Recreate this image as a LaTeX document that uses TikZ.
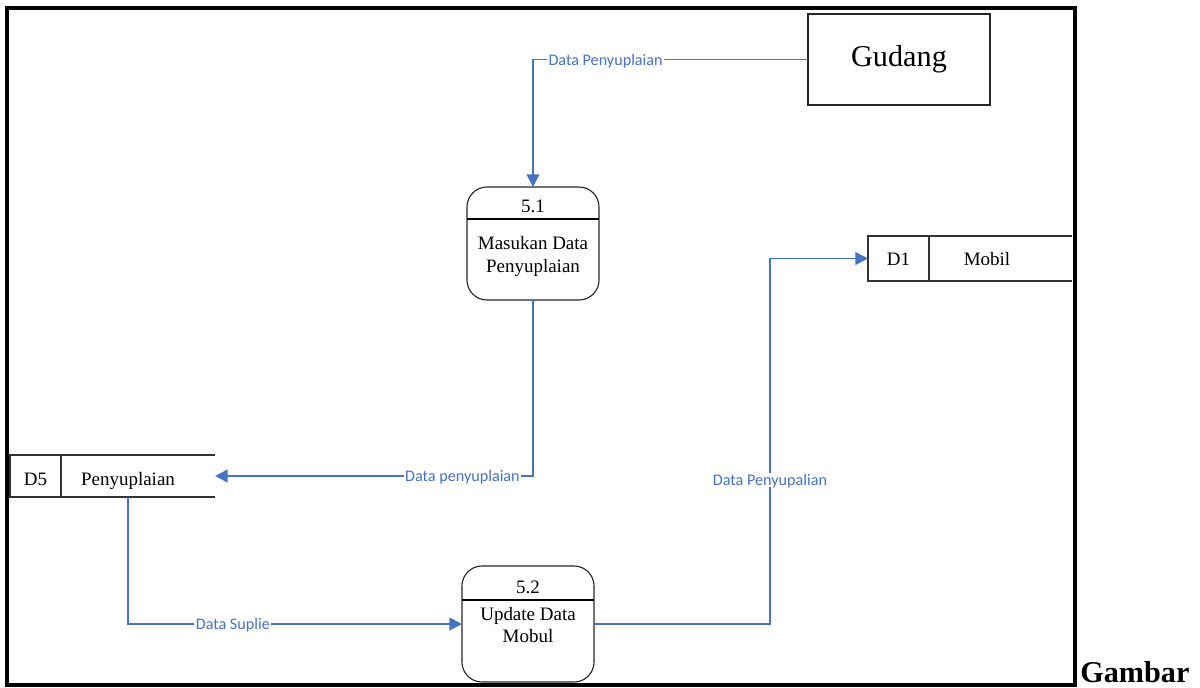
\documentclass[tikz,border=0pt]{standalone}
\usepackage{fontspec}
\setmainfont{Liberation Serif}
\newfontfamily\lblfont{Carlito}
\usetikzlibrary{arrows.meta}
\definecolor{flowblue}{RGB}{68,114,196}
\begin{document}
\begin{tikzpicture}[x=0.025cm,y=-0.025cm,
  flow/.style={draw=flowblue, line width=1.4pt, -{Triangle[length=9pt,width=9pt]}},
  lbl/.style={fill=white, text=flowblue, font=\lblfont\fontsize{11.5}{13}\selectfont, inner sep=1pt, text depth=0pt},
  proc/.style={draw=black!85, line width=0.8pt, rounded corners=0.5cm, minimum width=3.3cm, inner sep=0pt, outer sep=0pt},
  divider/.style={draw=black, line width=1.3pt},
  store/.style={inner sep=0pt, outer sep=0pt},
  storeline/.style={draw=black!80, line width=0.8pt},
  txt/.style={anchor=base, inner sep=0pt, font=\fontsize{13.5}{16}\selectfont},
  ext/.style={draw=black!85, line width=0.8pt, minimum width=4.55cm, minimum height=2.275cm, inner sep=0pt, outer sep=0pt, font=\fontsize{21.5}{25}\selectfont}
]
\useasboundingbox (0,0) rectangle (1200,687);
% frame
\draw[line width=2.85pt] (7,8) rectangle (1075,684.5);

% external entity
\node[ext] (gudang) at (899,59.5) {Gudang};

% process 5.1
\node[proc, minimum height=2.825cm] (p51) at (533,243.5) {};
\draw[divider] ([yshift=-0.8cm]p51.north west) -- ([yshift=-0.8cm]p51.north east);
\node[txt] (p51n) at (533,212) {5.1};
\node[txt] (p51a) at (533,249) {Masukan Data};
\node[txt] (p51b) at (533,272) {Penyuplaian};

% process 5.2
\node[proc, minimum height=2.9cm] (p52) at (528,624) {};
\draw[divider] ([yshift=-0.85cm]p52.north west) -- ([yshift=-0.85cm]p52.north east);
\node[txt] (p52n) at (528,593) {5.2};
\node[txt] (p52a) at (528,620) {Update Data};
\node[txt] (p52b) at (528,642) {Mobul};

% store D5
\node[store, minimum width=5.125cm, minimum height=1.05cm] (d5) at (112.5,476) {};
\draw[storeline] (d5.north east) -- (d5.north west) -- (d5.south west) -- (d5.south east);
\draw[storeline] ([xshift=1.275cm]d5.north west) -- ([xshift=1.275cm]d5.south west);
\node[txt] (d5id) at (35.5,485) {D5};
\node[txt] (d5nm) at (128,485) {Penyuplaian};
\coordinate (d5out) at ([xshift=2.95cm]d5.south west);

% store D1
\node[store, minimum width=5.1cm, minimum height=1.125cm] (d1) at (970,258.5) {};
\draw[storeline] (d1.north east) -- (d1.north west) -- (d1.south west) -- (d1.south east);
\draw[storeline] ([xshift=1.525cm]d1.north west) -- ([xshift=1.525cm]d1.south west);
\node[txt] (d1id) at (898.5,265.5) {D1};
\node[txt] (d1nm) at (987,265.5) {Mobil};

% flows
\draw[flow] (gudang.west) -| node[lbl,pos=0.368]{Data Penyuplaian} (p51.north);
\draw[flow] (p51.south) |- node[lbl,pos=0.611]{Data penyuplaian} (d5.east);
\draw[flow] (d5out) |- node[lbl,pos=0.657]{Data Suplie} (p52.west);
\coordinate (bend) at (770,624);
\draw[flow] (p52.east) -- (bend) |- node[lbl,pos=0.197]{Data Penyupalian} (d1.west);

% caption
\node[anchor=base west, inner sep=0pt, font=\bfseries\fontsize{21.5}{26}\selectfont] (gambar) at (1080,682) {Gambar};
\end{tikzpicture}
\end{document}
